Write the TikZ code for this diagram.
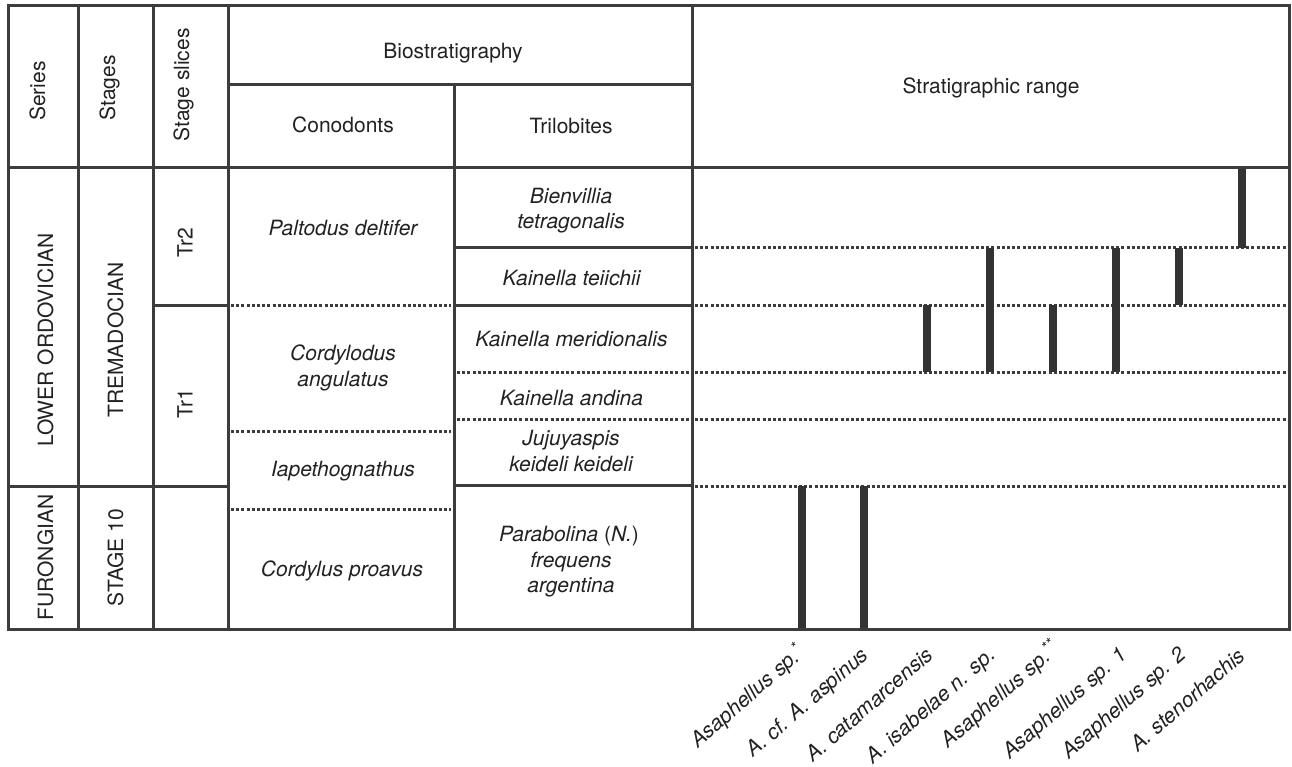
\documentclass[tikz,border=0pt]{standalone}
\usepackage{fontspec}
\setmainfont{TeX Gyre Heros}
\definecolor{ln}{HTML}{3C3C3C}
\definecolor{barc}{HTML}{333333}
\definecolor{txt}{HTML}{222222}
\begin{document}
\begin{tikzpicture}[x=1pt,y=-1pt,
  rule/.style={line width=3pt, draw=ln, line cap=rect},
  dotline/.style={line width=3pt, draw=ln, dash pattern=on 3pt off 2.2pt},
  bar/.style={fill=barc, draw=none},
  lbl/.style={font=\fontsize{21}{25.5}\selectfont, text=txt, inner sep=0pt, anchor=base},
  itl/.style={lbl, font=\fontsize{21}{25.5}\selectfont\itshape},
  vlbl/.style={lbl, rotate=90},
  sp/.style={itl, rotate=41, anchor=base east}]
\useasboundingbox (0,0) rectangle (1292,767);
\fill[white] (0,0) rectangle (1292,767);

% dotted boundaries
\draw[dotline] (231,305) -- (451,305);
\draw[dotline] (231,431) -- (451,431);
\draw[dotline] (231,509) -- (451,509);
\draw[dotline] (457,372) -- (689,372);
\draw[dotline] (457,419) -- (689,419);
\foreach \yy in {248,305,372,419,486}
  \draw[dotline] (695,\yy) -- (1287,\yy);

% range bars
\coordinate (b1t) at (802,486);  \coordinate (b1b) at (802,629);
\coordinate (b2t) at (863.5,486); \coordinate (b2b) at (863.5,629);
\coordinate (b3t) at (927,305);  \coordinate (b3b) at (927,372);
\coordinate (b4t) at (990,248);  \coordinate (b4b) at (990,372);
\coordinate (b5t) at (1053,305); \coordinate (b5b) at (1053,372);
\coordinate (b6t) at (1116,248); \coordinate (b6b) at (1116,372);
\coordinate (b7t) at (1179,248); \coordinate (b7b) at (1179,305);
\coordinate (b8t) at (1242,167); \coordinate (b8b) at (1242,248);
\foreach \i in {1,...,8}
  \fill[bar] ([xshift=-4pt]b\i t) rectangle ([xshift=4pt]b\i b);

% solid grid
\draw[rule] (8,5.5) rectangle (1289.5,629);
\draw[rule] (78,5.5) -- (78,629);
\draw[rule] (153,5.5) -- (153,629);
\draw[rule] (228,5.5) -- (228,629);
\draw[rule] (454,85) -- (454,629);
\draw[rule] (692,5.5) -- (692,629);
\draw[rule] (228,85) -- (692,85);
\draw[rule] (8,167.5) -- (1289.5,167.5);
\draw[rule] (8,486) -- (228,486);
\draw[rule] (454,485) -- (692,485);
\draw[rule] (153,305) -- (228,305);
\draw[rule] (454,248) -- (692,248);
\draw[rule] (454,305) -- (692,305);

% header texts
\node[vlbl] (series) at (45,91) {Series};
\node[vlbl] (stages) at (115,88) {Stages};
\node[vlbl] (slices) at (189,85) {Stage slices};
\node[lbl] (bio) at (453,58.5) {Biostratigraphy};
\node[lbl] (cono) at (343,132.7) {Conodonts};
\node[lbl] (tril) at (571,133.3) {Trilobites};
\node[lbl] (range) at (991,94) {Stratigraphic range};

% series / stages / slices
\node[vlbl] (lord) at (53,340) {LOWER ORDOVICIAN};
\node[vlbl] (furo) at (53,557.5) {FURONGIAN};
\node[vlbl] (trem) at (123,340) {TREMADOCIAN};
\node[vlbl] (st10) at (123,557.5) {STAGE 10};
\node[vlbl] (tr2) at (192.5,242.5) {Tr2};
\node[vlbl] (tr1) at (192.5,403.5) {Tr1};

% conodont zones
\node[itl] (palt) at (343,236) {Paltodus deltifer};
\node[itl] (cordA) at (343,360.7) {Cordylodus};
\node[itl] (cordB) at (343,386.7) {angulatus};
\node[itl] (iape) at (343,476.7) {Iapethognathus};
\node[itl] (cprov) at (342,576.7) {Cordylus proavus};

% trilobite zones
\node[itl] (bienA) at (571,203.3) {Bienvillia};
\node[itl] (bienB) at (571,228.3) {tetragonalis};
\node[itl] (kteii) at (571.5,285) {Kainella teiichii};
\node[itl] (kmeri) at (571.5,346.7) {Kainella meridionalis};
\node[itl] (kandi) at (571.5,405) {Kainella andina};
\node[itl] (jujuA) at (571,445) {Jujuyaspis};
\node[itl] (jujuB) at (571,471.7) {keideli keideli};
\node[itl] (paraA) at (569,541.7) {Parabolina \upshape(\itshape N.\upshape)};
\node[itl] (paraB) at (571,567) {frequens};
\node[itl] (paraC) at (571,592.7) {argentina};

% species labels
\node[sp] (s1) at (806,655) {Asaphellus sp.\textsuperscript{*}};
\node[sp] (s2) at (870,657) {A. cf. A. aspinus};
\node[sp] (s3) at (935,657) {A. catamarcensis};
\node[sp] (s4) at (997,657) {A. isabelae n. sp.};
\node[sp] (s5) at (1061,651) {Asaphellus sp.\textsuperscript{**}};
\node[sp] (s6) at (1128,657) {Asaphellus sp. 1};
\node[sp] (s7) at (1187,657) {Asaphellus sp. 2};
\node[sp] (s8) at (1247,658) {A. stenorhachis};
\end{tikzpicture}
\end{document}
